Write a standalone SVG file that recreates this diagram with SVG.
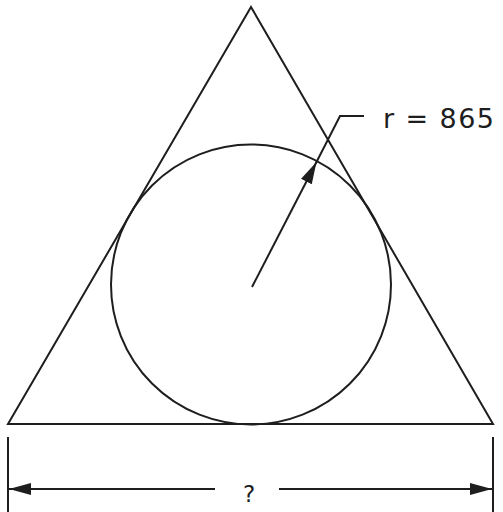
<svg xmlns="http://www.w3.org/2000/svg" width="503" height="512" viewBox="0 0 503 512">
<style>
.ln{fill:none;stroke:#1e1e1e;stroke-width:2;stroke-linecap:butt}
.tx{font-family:"DejaVu Sans",Verdana,sans-serif;fill:#1e1e1e}
</style>
<defs>
<marker id="ah" viewBox="0 0 22 12" refX="22" refY="6" markerWidth="22" markerHeight="12" markerUnits="userSpaceOnUse" orient="auto">
<path d="M0,0 L22,6 L0,12 Z" fill="#1e1e1e"/>
</marker>
</defs>
<rect width="503" height="512" fill="#fff"/>
<g id="triangle"><path class="ln" d="M251,7 L493,424 L8,424 Z" stroke-linejoin="miter"/></g>
<g id="circle"><circle class="ln" cx="251" cy="284.5" r="140"/></g>
<g id="connectors">
<path class="ln" d="M252,287 L316.5,162" marker-end="url(#ah)"/>
<path class="ln" d="M316,163 L340,116 L364,116"/>
<path class="ln" d="M8,437 V512 M493,437 V512"/>
<path class="ln" d="M215,489 L9,489" marker-end="url(#ah)"/>
<path class="ln" d="M279,489 L492,489" marker-end="url(#ah)"/>
</g>
<g id="label-r"><text class="tx" x="383" y="128" font-size="27" textLength="111" lengthAdjust="spacing">r = 865</text></g>
<g id="label-q"><text class="tx" x="249" y="502" font-size="23" text-anchor="middle">?</text></g>
</svg>
